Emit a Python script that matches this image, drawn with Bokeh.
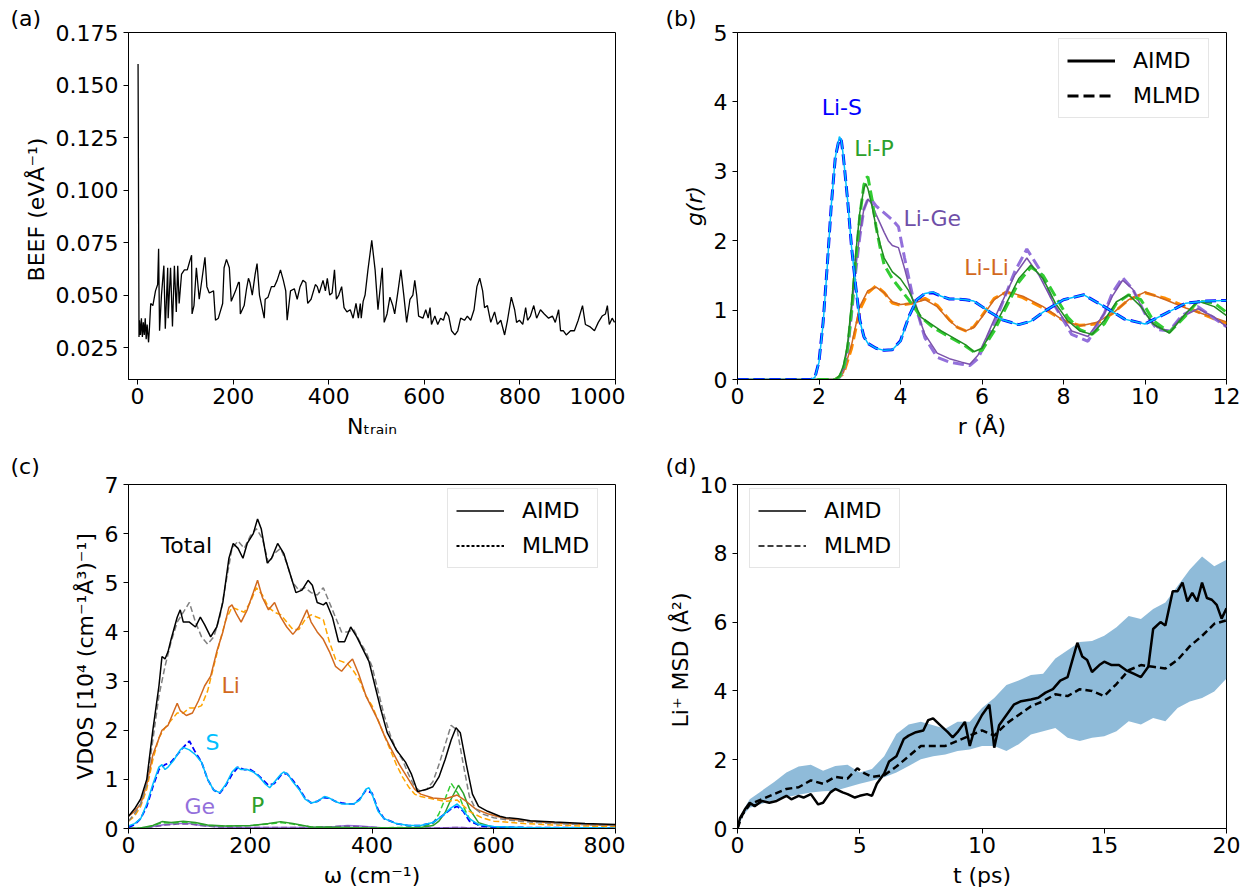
from bokeh.plotting import figure
from bokeh.models import Legend, LegendItem, FixedTicker, PrintfTickFormatter, Range1d, Label
from bokeh.layouts import column, row
from bokeh.embed import file_html
from bokeh.resources import INLINE

# ---------------- data: (a) BEEF vs N_train ----------------
beef_points = [
    (1, 0.160), (3, 0.030), (4, 0.038), (6, 0.031), (8, 0.039), (10, 0.030), (12, 0.037),
    (14, 0.031), (16, 0.039), (18, 0.029), (20, 0.036), (22, 0.030), (23, 0.0275), (25, 0.035),
    (27.5, 0.046), (32, 0.045), (37.5, 0.052), (42, 0.055), (44, 0.072), (46, 0.033), (50, 0.050),
    (55, 0.064), (58, 0.034), (63, 0.063), (64, 0.039), (69, 0.063), (73, 0.035), (77, 0.064),
    (81, 0.042), (84, 0.064), (87, 0.046), (92, 0.060), (98, 0.062), (104, 0.062), (109, 0.066),
    (113, 0.069), (114, 0.041), (118, 0.045), (123, 0.063), (129, 0.048), (135, 0.058), (141, 0.068),
    (145, 0.054), (150, 0.051), (159, 0.052), (163, 0.038), (169, 0.039), (178, 0.046), (181, 0.063),
    (186, 0.067), (192, 0.063), (196, 0.047), (205, 0.052), (211, 0.056), (213, 0.056), (215, 0.041),
    (223, 0.045), (228, 0.053), (232, 0.058), (235, 0.056), (240, 0.050), (246, 0.060), (250, 0.065),
    (255, 0.050), (265, 0.039), (267, 0.048), (273, 0.049), (280, 0.054), (286, 0.054), (292, 0.057),
    (299, 0.062), (305, 0.057), (310, 0.052), (313, 0.038), (320, 0.052), (328, 0.053), (334, 0.048),
    (340, 0.054), (346, 0.057), (352, 0.056), (356, 0.046), (363, 0.048), (372, 0.055), (376, 0.054),
    (380, 0.051), (388, 0.057), (393, 0.052), (397, 0.058), (402, 0.050), (407, 0.051), (412, 0.062),
    (416, 0.048), (421, 0.050), (427, 0.054), (432, 0.044), (438, 0.042), (445, 0.043), (451, 0.039),
    (457, 0.046), (462, 0.039), (466, 0.046), (468, 0.039), (472, 0.047), (476, 0.050), (482, 0.062),
    (490, 0.076), (497, 0.062), (503, 0.043), (512, 0.063), (516, 0.037), (522, 0.041), (528, 0.049),
    (534, 0.045), (538, 0.041), (545, 0.052), (551, 0.062), (557, 0.050), (563, 0.037), (570, 0.048),
    (576, 0.050), (580, 0.057), (584, 0.050), (588, 0.040), (597, 0.039), (603, 0.043), (608, 0.039),
    (612, 0.044), (615, 0.036), (622, 0.040), (628, 0.036), (634, 0.039), (640, 0.038), (645, 0.042),
    (651, 0.040), (657, 0.033), (664, 0.031), (670, 0.033), (676, 0.039), (684, 0.038), (690, 0.040),
    (697, 0.038), (704, 0.043), (710, 0.054), (716, 0.058), (722, 0.052), (726, 0.044), (732, 0.045),
    (739, 0.037), (747, 0.042), (753, 0.036), (760, 0.038), (768, 0.031), (774, 0.038), (782, 0.049),
    (789, 0.043), (793, 0.037), (799, 0.038), (806, 0.036), (812, 0.044), (816, 0.038), (822, 0.040),
    (829, 0.045), (835, 0.039), (843, 0.043), (851, 0.041), (860, 0.039), (868, 0.040), (874, 0.037),
    (881, 0.043), (885, 0.033), (891, 0.033), (897, 0.031), (906, 0.033), (914, 0.033), (922, 0.038),
    (931, 0.045), (937, 0.036), (946, 0.035), (956, 0.033), (964, 0.037), (972, 0.040), (979, 0.041),
    (983, 0.045), (987, 0.036), (993, 0.039), (998, 0.037),
]
n_train = [p[0] for p in beef_points]
beef = [p[1] for p in beef_points]

# ---------------- data: (b) g(r) ----------------
r_lis = [0, 1.8, 1.9, 2.0, 2.1, 2.2, 2.3, 2.4, 2.5, 2.55, 2.6, 2.7, 2.8, 2.9, 3.0, 3.1, 3.2, 3.4, 3.6, 3.8,
         4.0, 4.2, 4.4, 4.6, 4.8, 5.0, 5.2, 5.4, 5.6, 5.8, 6.0, 6.2, 6.5, 6.9, 7.2, 7.5, 8.0, 8.5, 9.0, 9.5,
         10.0, 10.5, 11.0, 11.5, 12.0]
g_lis_aimd = [0, 0, 0.03, 0.25, 0.8, 1.6, 2.5, 3.2, 3.5, 3.45, 3.2, 2.6, 1.9, 1.35, 0.85, 0.62, 0.52, 0.45,
              0.42, 0.43, 0.55, 0.9, 1.15, 1.24, 1.26, 1.2, 1.16, 1.16, 1.15, 1.13, 1.05, 0.97, 0.86, 0.79,
              0.84, 0.97, 1.15, 1.22, 1.05, 0.87, 0.8, 0.95, 1.1, 1.13, 1.14]
g_lis_mlmd = [0, 0, 0.03, 0.26, 0.82, 1.62, 2.5, 3.2, 3.48, 3.44, 3.2, 2.6, 1.9, 1.35, 0.86, 0.62, 0.52, 0.45,
              0.42, 0.43, 0.56, 0.9, 1.15, 1.24, 1.25, 1.2, 1.16, 1.16, 1.15, 1.13, 1.05, 0.97, 0.86, 0.79,
              0.84, 0.97, 1.15, 1.22, 1.05, 0.87, 0.8, 0.95, 1.1, 1.13, 1.14]

r_lip = [0, 2.4, 2.5, 2.6, 2.7, 2.8, 2.9, 3.0, 3.1, 3.15, 3.2, 3.3, 3.4, 3.5, 3.6, 3.8, 4.0, 4.2, 4.5, 4.8,
         5.0, 5.3, 5.6, 5.8, 6.0, 6.3, 6.6, 6.9, 7.2, 7.5, 7.8, 8.1, 8.4, 8.7, 9.0, 9.3, 9.6, 9.9, 10.2, 10.6,
         11.0, 11.3, 11.7, 12.0]
g_lip_aimd = [0, 0, 0.05, 0.2, 0.5, 1.1, 1.8, 2.4, 2.75, 2.82, 2.75, 2.5, 2.2, 1.95, 1.75, 1.55, 1.45, 1.28,
              0.9, 0.78, 0.7, 0.6, 0.5, 0.4, 0.45, 0.75, 1.1, 1.45, 1.65, 1.45, 1.1, 0.85, 0.7, 0.65, 0.85,
              1.12, 1.22, 1.05, 0.8, 0.67, 0.95, 1.13, 1.05, 0.92]
g_lip_mlmd = [0, 0, 0.04, 0.15, 0.45, 1.0, 1.7, 2.35, 2.8, 2.9, 2.92, 2.6, 2.2, 1.9, 1.65, 1.45, 1.3, 1.15,
              0.9, 0.75, 0.68, 0.58, 0.48, 0.4, 0.42, 0.7, 1.05, 1.4, 1.62, 1.5, 1.2, 0.9, 0.72, 0.65, 0.8,
              1.1, 1.22, 1.15, 0.85, 0.68, 0.92, 1.13, 1.1, 0.97]

r_lige = [0, 2.4, 2.5, 2.6, 2.7, 2.8, 2.9, 3.0, 3.1, 3.2, 3.3, 3.4, 3.5, 3.6, 3.7, 3.8, 3.95, 4.1, 4.3, 4.6,
          4.9, 5.2, 5.5, 5.7, 5.9, 6.1, 6.4, 6.8, 7.1, 7.4, 7.8, 8.2, 8.6, 9.0, 9.2, 9.45, 9.7, 10.0, 10.3,
          10.6, 10.9, 11.3, 11.7, 12.0]
g_lige_aimd = [0, 0, 0.04, 0.15, 0.45, 1.0, 1.6, 2.1, 2.45, 2.6, 2.53, 2.38, 2.25, 2.12, 2.0, 1.93, 1.9, 1.6,
               1.15, 0.65, 0.38, 0.3, 0.25, 0.22, 0.35, 0.6, 1.0, 1.5, 1.75, 1.5, 1.05, 0.7, 0.62, 0.95, 1.2,
               1.43, 1.3, 0.95, 0.75, 0.7, 0.9, 1.02, 0.9, 0.76]
g_lige_mlmd = [0, 0, 0.03, 0.12, 0.4, 0.95, 1.55, 2.05, 2.45, 2.6, 2.58, 2.5, 2.45, 2.4, 2.35, 2.3, 2.2, 1.75,
               1.2, 0.6, 0.32, 0.25, 0.22, 0.2, 0.3, 0.55, 0.95, 1.55, 1.88, 1.6, 1.05, 0.65, 0.55, 0.95, 1.25,
               1.47, 1.3, 0.95, 0.72, 0.7, 0.92, 1.05, 0.88, 0.76]

r_lili = [0, 2.4, 2.6, 2.8, 3.0, 3.2, 3.4, 3.6, 3.8, 4.0, 4.3, 4.6, 4.9, 5.2, 5.4, 5.6, 5.8, 6.0, 6.3, 6.6,
          7.0, 7.5, 8.0, 8.4, 8.8, 9.2, 9.6, 10.0, 10.5, 11.0, 11.5, 12.0]
g_lili_aimd = [0, 0, 0.1, 0.5, 1.05, 1.28, 1.33, 1.25, 1.12, 1.08, 1.1, 1.15, 1.05, 0.85, 0.75, 0.7, 0.75, 0.9,
               1.15, 1.27, 1.2, 1.05, 0.85, 0.77, 0.82, 0.95, 1.15, 1.26, 1.15, 1.03, 0.93, 0.83]
g_lili_mlmd = [0, 0, 0.08, 0.45, 1.0, 1.25, 1.35, 1.25, 1.1, 1.07, 1.1, 1.17, 1.07, 0.86, 0.75, 0.7, 0.76, 0.92,
               1.17, 1.26, 1.18, 1.03, 0.85, 0.78, 0.8, 0.95, 1.15, 1.25, 1.17, 1.05, 0.92, 0.8]

# ---------------- data: (c) VDOS ----------------
w_tot_aimd = [0, 10, 20, 30, 40, 50, 55, 60, 65, 70, 80, 85, 90, 100, 110, 118, 125, 135, 145, 155, 165, 172,
              180, 188, 195, 205, 212, 218, 228, 235, 245, 255, 265, 275, 285, 295, 302, 310, 320, 325, 335,
              345, 355, 365, 375, 385, 395, 405, 415, 425, 440, 455, 465, 475, 490, 500, 510, 520, 530, 538,
              545, 555, 565, 575, 590, 600, 610, 620, 640, 660, 700, 750, 800]
tot_aimd = [0.25, 0.4, 0.6, 1.0, 2.0, 2.9, 3.5, 3.45, 3.6, 3.85, 4.3, 4.45, 4.2, 4.2, 4.1, 4.3, 4.15, 3.9, 4.1,
            4.6, 5.5, 5.8, 5.7, 5.5, 5.8, 6.0, 6.3, 6.1, 5.4, 5.5, 5.8, 5.6, 5.2, 4.8, 4.85, 5.05, 4.95, 4.6,
            4.55, 4.6, 4.3, 3.8, 3.8, 4.1, 3.9, 3.65, 3.4, 2.9, 2.4, 1.95, 1.6, 1.35, 1.1, 0.75, 0.8, 0.85,
            1.05, 1.4, 1.8, 2.05, 1.95, 1.3, 0.7, 0.45, 0.35, 0.3, 0.25, 0.22, 0.2, 0.16, 0.13, 0.1, 0.08]
w_tot_mlmd = [0, 10, 20, 30, 40, 50, 60, 70, 80, 90, 100, 110, 120, 130, 140, 150, 160, 170, 180, 190, 200,
              210, 220, 230, 240, 250, 260, 270, 280, 290, 300, 310, 320, 330, 340, 350, 360, 370, 380, 390,
              400, 410, 420, 430, 440, 450, 460, 470, 480, 490, 500, 510, 520, 530, 540, 550, 560, 570, 580,
              600, 620, 650, 700, 750, 800]
tot_mlmd = [0.15, 0.3, 0.5, 0.9, 1.8, 2.7, 3.3, 3.8, 4.2, 4.4, 4.6, 4.2, 3.9, 3.75, 3.9, 4.3, 5.0, 5.7, 5.85,
            5.7, 5.95, 6.1, 5.9, 5.4, 5.6, 5.7, 5.4, 5.0, 4.85, 4.9, 4.8, 4.75, 4.9, 4.6, 4.3, 4.0, 4.0, 4.05,
            3.8, 3.6, 3.3, 2.8, 2.3, 1.9, 1.6, 1.4, 1.1, 0.85, 0.75, 0.8, 0.95, 1.3, 1.7, 2.1, 2.0, 1.3, 0.65,
            0.4, 0.3, 0.22, 0.18, 0.14, 0.1, 0.08, 0.06]

w_li_aimd = [0, 10, 20, 30, 40, 55, 65, 75, 80, 85, 95, 105, 115, 125, 135, 145, 155, 165, 170, 178, 185, 195,
             205, 212, 220, 230, 240, 250, 260, 270, 280, 293, 300, 310, 320, 330, 340, 350, 360, 368, 378, 390,
             400, 410, 420, 430, 445, 460, 470, 480, 500, 520, 540, 555, 570, 590, 620, 660, 700, 750, 800]
li_aimd = [0.25, 0.35, 0.5, 0.9, 1.5, 2.0, 2.1, 2.4, 2.55, 2.4, 2.3, 2.35, 2.6, 2.9, 3.1, 3.6, 4.0, 4.5, 4.55,
           4.35, 4.2, 4.45, 4.8, 5.05, 4.7, 4.45, 4.6, 4.3, 4.1, 3.95, 4.1, 4.45, 4.2, 4.0, 3.85, 3.6, 3.3, 3.2,
           3.35, 3.45, 3.15, 2.7, 2.45, 2.2, 1.9, 1.65, 1.3, 1.0, 0.8, 0.7, 0.62, 0.6, 0.68, 0.55, 0.4, 0.3,
           0.2, 0.15, 0.11, 0.08, 0.06]
w_li_mlmd = [0, 10, 20, 30, 40, 50, 60, 70, 80, 90, 100, 110, 120, 130, 140, 150, 160, 170, 180, 190, 200,
             210, 220, 230, 240, 250, 260, 270, 280, 290, 300, 310, 320, 330, 340, 350, 360, 370, 380, 390,
             400, 410, 420, 430, 440, 450, 460, 470, 480, 500, 520, 540, 560, 580, 600, 650, 700, 750, 800]
li_mlmd = [0.15, 0.25, 0.45, 0.8, 1.4, 1.85, 2.05, 2.2, 2.35, 2.35, 2.45, 2.45, 2.5, 2.8, 3.3, 3.8, 4.25, 4.5,
           4.45, 4.4, 4.6, 4.9, 4.75, 4.5, 4.4, 4.35, 4.2, 4.05, 4.05, 4.25, 4.35, 4.3, 4.25, 3.8, 3.45, 3.4,
           3.35, 3.2, 3.0, 2.7, 2.5, 2.2, 1.9, 1.6, 1.3, 1.05, 0.85, 0.7, 0.65, 0.6, 0.55, 0.58, 0.35, 0.22,
           0.15, 0.1, 0.07, 0.05, 0.04]

w_s_aimd = [0, 10, 20, 30, 40, 50, 55, 60, 65, 75, 85, 90, 100, 110, 120, 130, 140, 150, 160, 170, 178, 185,
            195, 205, 215, 225, 232, 240, 250, 255, 262, 270, 280, 290, 300, 310, 322, 330, 340, 350, 360, 370,
            380, 390, 395, 400, 410, 420, 440, 460, 480, 500, 515, 530, 540, 548, 560, 575, 600, 650, 800]
s_aimd = [0.05, 0.1, 0.2, 0.5, 0.9, 1.25, 1.3, 1.2, 1.25, 1.4, 1.6, 1.65, 1.6, 1.5, 1.35, 1.0, 0.78, 0.73, 0.9,
          1.15, 1.25, 1.2, 1.2, 1.15, 1.05, 0.9, 0.83, 0.95, 1.1, 1.15, 1.1, 0.95, 0.8, 0.6, 0.52, 0.55, 0.65,
          0.62, 0.55, 0.5, 0.5, 0.5, 0.58, 0.8, 0.83, 0.7, 0.35, 0.2, 0.1, 0.06, 0.06, 0.12, 0.25, 0.42, 0.5,
          0.4, 0.2, 0.08, 0.04, 0.02, 0.01]
w_s_mlmd = [0, 10, 20, 30, 40, 50, 60, 70, 80, 90, 100, 110, 120, 130, 140, 150, 160, 170, 180, 190, 200, 210,
            220, 230, 240, 250, 260, 270, 280, 290, 300, 310, 320, 330, 340, 350, 360, 370, 380, 390, 400, 410,
            420, 440, 460, 480, 500, 520, 530, 540, 550, 560, 580, 600, 650, 800]
s_mlmd = [0.02, 0.08, 0.2, 0.45, 0.85, 1.2, 1.3, 1.35, 1.5, 1.65, 1.78, 1.55, 1.35, 1.0, 0.78, 0.72, 0.88, 1.1,
          1.25, 1.2, 1.2, 1.12, 1.0, 0.88, 0.92, 1.08, 1.12, 0.98, 0.82, 0.62, 0.52, 0.55, 0.63, 0.62, 0.55,
          0.52, 0.5, 0.5, 0.6, 0.78, 0.72, 0.38, 0.2, 0.1, 0.06, 0.06, 0.12, 0.3, 0.4, 0.45, 0.35, 0.15, 0.05,
          0.03, 0.02, 0.01]

w_ge = [0, 20, 40, 60, 80, 100, 120, 150, 200, 250, 300, 340, 360, 380, 420, 500, 540, 600, 800]
ge_aimd = [0.0, 0.01, 0.04, 0.08, 0.1, 0.1, 0.06, 0.03, 0.02, 0.02, 0.02, 0.04, 0.06, 0.05, 0.01, 0.01, 0.02, 0.0, 0.0]
ge_mlmd = [0.0, 0.01, 0.03, 0.07, 0.09, 0.09, 0.06, 0.03, 0.02, 0.02, 0.02, 0.04, 0.05, 0.04, 0.01, 0.01, 0.02, 0.0, 0.0]

w_p = [0, 20, 40, 55, 70, 90, 110, 130, 160, 200, 230, 250, 270, 300, 400, 480, 500, 510, 520, 530, 542, 550,
       560, 575, 600, 800]
p_aimd = [0.0, 0.01, 0.06, 0.14, 0.12, 0.15, 0.12, 0.07, 0.05, 0.06, 0.1, 0.14, 0.1, 0.03, 0.01, 0.02, 0.06,
          0.15, 0.32, 0.6, 0.88, 0.72, 0.4, 0.12, 0.02, 0.0]
p_mlmd = [0.0, 0.01, 0.05, 0.12, 0.11, 0.13, 0.11, 0.06, 0.05, 0.06, 0.09, 0.12, 0.09, 0.03, 0.01, 0.03, 0.1,
          0.3, 0.6, 0.92, 0.7, 0.45, 0.2, 0.06, 0.01, 0.0]

# ---------------- data: (d) MSD ----------------
t_aimd = [0, 0.1, 0.3, 0.5, 0.7, 1.0, 1.3, 1.6, 2.0, 2.2, 2.5, 2.7, 3.0, 3.3, 3.5, 3.8, 4.0, 4.3, 4.5, 4.8,
          5.0, 5.3, 5.5, 5.7, 6.0, 6.2, 6.5, 6.8, 7.0, 7.3, 7.6, 7.8, 8.0, 8.3, 8.6, 8.8, 9.0, 9.3, 9.5, 9.7,
          10.0, 10.3, 10.4, 10.5, 10.7, 11.0, 11.3, 11.6, 12.0, 12.3, 12.6, 12.9, 13.2, 13.5, 13.7, 13.9,
          14.1, 14.3, 14.5, 14.8, 15.0, 15.3, 15.6, 15.9, 16.2, 16.5, 16.8, 17.0, 17.3, 17.5, 17.8, 18.0,
          18.2, 18.4, 18.6, 18.8, 19.0, 19.2, 19.4, 19.6, 19.8, 20.0]
msd_aimd = [0, 0.3, 0.55, 0.75, 0.65, 0.8, 0.75, 0.8, 0.95, 0.85, 0.95, 0.9, 1.0, 0.7, 0.75, 1.05, 1.15, 1.05,
            1.0, 0.9, 0.95, 1.0, 0.95, 1.3, 1.6, 1.95, 2.1, 2.6, 2.7, 2.8, 2.85, 3.15, 3.2, 3.0, 2.8, 2.65, 2.8,
            3.1, 2.4, 2.9, 3.3, 3.6, 3.0, 2.35, 3.0, 3.3, 3.6, 3.7, 3.75, 3.8, 3.95, 4.05, 4.3, 4.4, 4.9, 5.4,
            5.0, 4.9, 4.55, 4.75, 4.85, 4.75, 4.75, 4.6, 4.5, 4.4, 4.7, 5.8, 6.0, 5.9, 6.9, 6.9, 7.15, 6.6,
            6.85, 6.6, 7.15, 6.7, 6.65, 6.5, 6.1, 6.4]
t_mlmd = [0, 0.2, 0.5, 1.0, 1.5, 2.0, 2.5, 3.0, 3.5, 4.0, 4.5, 4.9, 5.2, 5.5, 6.0, 6.5, 7.0, 7.5, 8.0, 8.5,
          9.0, 9.5, 10.0, 10.5, 11.0, 11.5, 12.0, 12.5, 13.0, 13.5, 14.0, 14.5, 15.0, 15.5, 16.0, 16.5, 17.0,
          17.5, 18.0, 18.5, 19.0, 19.5, 20.0]
msd_mlmd = [0, 0.4, 0.7, 0.85, 1.0, 1.15, 1.2, 1.4, 1.3, 1.5, 1.45, 1.75, 1.6, 1.5, 1.55, 1.8, 2.1, 2.4, 2.4,
            2.4, 2.55, 2.7, 2.85, 2.7, 3.05, 3.3, 3.55, 3.7, 3.9, 3.85, 4.05, 4.0, 3.85, 4.2, 4.6, 4.75, 4.7,
            4.65, 4.9, 5.3, 5.6, 5.95, 6.05]
t_band = [0, 0.25, 0.5, 1, 1.5, 2, 2.5, 3, 3.5, 4, 4.5, 5, 5.5, 6, 6.5, 7, 7.5, 8, 8.5, 9, 9.5, 10, 10.5, 11,
          11.5, 12, 12.5, 13, 13.5, 14, 14.5, 15, 15.5, 16, 16.5, 17, 17.5, 18, 18.5, 19, 19.5, 20]
band_hi = [0, 0.55, 0.85, 1.1, 1.35, 1.63, 1.8, 1.85, 1.68, 1.82, 1.85, 1.63, 1.73, 2.1, 2.75, 3.02, 3.1, 3.0,
           2.9, 3.1, 3.1, 3.5, 3.79, 4.17, 4.3, 4.46, 4.5, 4.94, 5.18, 5.42, 5.45, 5.6, 5.85, 6.18, 6.09, 6.38,
           6.57, 7.05, 7.53, 7.91, 7.62, 7.81]
band_lo = [0, 0.4, 0.6, 0.72, 0.82, 0.91, 0.98, 1.05, 1.08, 1.1, 1.2, 1.3, 1.39, 1.49, 1.63, 1.82, 2.01, 2.1,
           2.15, 2.25, 2.3, 2.4, 2.4, 2.25, 2.45, 2.73, 2.83, 2.92, 2.64, 2.54, 2.64, 2.68, 2.83, 3.12, 3.02,
           3.21, 3.12, 3.5, 3.69, 3.79, 3.98, 4.36]

# ---------------- styling helpers ----------------
FONT = "DejaVu Sans"
FS = "22px"
NAN = float("nan")


def make_panel(w, h, xr, yr, ml, mr, mt, mb, xticks, yticks, xlabel, ylabel, tag, tag_offset,
               tag_standoff, yfmt=None, ylabel_style="normal"):
    p = figure(width=w, height=h, x_range=Range1d(*xr), y_range=Range1d(*yr),
               output_backend="svg", toolbar_location=None,
               min_border_left=ml, min_border_right=mr, min_border_top=mt, min_border_bottom=mb)
    p.grid.visible = False
    p.outline_line_color = "black"
    p.outline_line_width = 1
    p.background_fill_color = "white"
    p.border_fill_color = "white"
    p.xaxis.ticker = FixedTicker(ticks=xticks)
    p.yaxis.ticker = FixedTicker(ticks=yticks)
    if yfmt:
        p.yaxis.formatter = PrintfTickFormatter(format=yfmt)
    for ax in p.axis:
        ax.major_label_text_font = FONT
        ax.major_label_text_font_size = FS
        ax.major_label_text_color = "black"
        ax.axis_label_text_font = FONT
        ax.axis_label_text_font_size = FS
        ax.axis_label_text_color = "black"
        ax.axis_label_text_font_style = "normal"
        ax.minor_tick_line_color = None
        ax.major_tick_in = 0
        ax.major_tick_out = 5
        ax.axis_line_color = "black"
        ax.major_tick_line_color = "black"
    p.xaxis.major_label_standoff = 3
    p.yaxis.major_label_standoff = 5
    p.xaxis.axis_label_standoff = 7
    p.yaxis.axis_label_standoff = 4
    p.xaxis.axis_label = xlabel
    p.yaxis.axis_label = ylabel
    p.yaxis.axis_label_text_font_style = ylabel_style
    p.title.text = tag
    p.title.align = "left"
    p.title.offset = tag_offset
    p.title.standoff = tag_standoff
    p.title.text_font = FONT
    p.title.text_font_size = FS
    p.title.text_font_style = "normal"
    p.title.text_color = "black"
    return p


def add_text(p, x, y, text, color):
    p.add_layout(Label(x=x, y=y, text=text, text_font=FONT, text_font_size=FS,
                       text_align="center", text_baseline="middle", text_color=color))


def add_legend(p, entries, loc):
    items = []
    for lab, kw in entries:
        r = p.line(x=[0, 0], y=[NAN, NAN], color="black", **kw)
        items.append(LegendItem(label=lab, renderers=[r]))
    lg = Legend(items=items, location=loc, margin=0, padding=8, spacing=8,
                glyph_width=48, glyph_height=27, label_height=27, label_standoff=18,
                label_text_font=FONT, label_text_font_size=FS, label_text_color="black",
                border_line_color="#cccccc", border_line_width=1,
                background_fill_color="white", background_fill_alpha=0.8)
    p.add_layout(lg)


# ---------------- (a) ----------------
pa = make_panel(625, 446, (-19, 1000), (0.0098, 0.175), 128, 10, 32, 67,
                [0, 200, 400, 600, 800, 1000], [0.025, 0.05, 0.075, 0.1, 0.125, 0.15, 0.175],
                "Nₜᵣₐᵢₙ", "BEEF  (eVÅ⁻¹)", "(a)", -118, 4, yfmt="%.3f")
pa.line(n_train, beef, line_color="black", line_width=1.3)

# ---------------- (b) ----------------
pb = make_panel(620, 446, (0, 12), (0, 5), 112, 19, 32, 67,
                [0, 2, 4, 6, 8, 10, 12], [0, 1, 2, 3, 4, 5], "r (Å)", "g(r)", "(b)", -72, 4,
                ylabel_style="italic")
pb.line(r_lili, g_lili_mlmd, line_color="#ff8c00", line_width=3, line_dash="11 5")
pb.line(r_lili, g_lili_aimd, line_color="#d2691e", line_width=1.5)
pb.line(r_lige, g_lige_mlmd, line_color="#9370db", line_width=3, line_dash="11 5")
pb.line(r_lige, g_lige_aimd, line_color="#7b52ab", line_width=1.5)
pb.line(r_lip, g_lip_mlmd, line_color="#32cd32", line_width=3, line_dash="11 5")
pb.line(r_lip, g_lip_aimd, line_color="#228b22", line_width=1.5)
pb.line(r_lis, g_lis_mlmd, line_color="#0000ff", line_width=3, line_dash="11 5")
pb.line(r_lis, g_lis_aimd, line_color="#00bfff", line_width=1.5)
add_text(pb, 2.56, 3.92, "Li-S", "#0000ff")
add_text(pb, 3.35, 3.33, "Li-P", "#2ca02c")
add_text(pb, 4.78, 2.32, "Li-Ge", "#6f4fa8")
add_text(pb, 6.11, 1.61, "Li-Li", "#d2691e")
add_legend(pb, [("AIMD", dict(line_width=3)), ("MLMD", dict(line_width=3, line_dash="11 5"))], (321, 261))

# ---------------- (c) ----------------
pc = make_panel(625, 444, (0, 800), (0, 7), 128, 10, 37, 59,
                [0, 200, 400, 600, 800], [0, 1, 2, 3, 4, 5, 6, 7], "ω (cm⁻¹)",
                "VDOS [10⁴ (cm⁻¹Å³)⁻¹]", "(c)", -118, 11)
dash_c = "6 3"
pc.line(w_ge, ge_aimd, line_color="#9370db", line_width=1.5)
pc.line(w_ge, ge_mlmd, line_color="#7b52ab", line_width=1.5, line_dash=dash_c)
pc.line(w_p, p_mlmd, line_color="#32cd32", line_width=1.5, line_dash=dash_c)
pc.line(w_p, p_aimd, line_color="#2ca02c", line_width=1.5)
pc.line(w_s_mlmd, s_mlmd, line_color="#0000ff", line_width=1.8, line_dash=dash_c)
pc.line(w_s_aimd, s_aimd, line_color="#00bfff", line_width=1.5)
pc.line(w_li_mlmd, li_mlmd, line_color="#ffa500", line_width=1.5, line_dash=dash_c)
pc.line(w_li_aimd, li_aimd, line_color="#d2691e", line_width=1.5)
pc.line(w_tot_mlmd, tot_mlmd, line_color="#808080", line_width=1.5, line_dash=dash_c)
pc.line(w_tot_aimd, tot_aimd, line_color="black", line_width=1.5)
add_text(pc, 95, 5.75, "Total", "black")
add_text(pc, 168, 2.92, "Li", "#d2691e")
add_text(pc, 138, 1.76, "S", "#00bfff")
add_text(pc, 117, 0.45, "Ge", "#9370db")
add_text(pc, 212, 0.47, "P", "#2ca02c")
add_legend(pc, [("AIMD", dict(line_width=1.5)), ("MLMD", dict(line_width=2, line_dash="3 2"))], (319, 260))

# ---------------- (d) ----------------
pd_ = make_panel(620, 444, (0, 20), (0, 10), 112, 19, 37, 59,
                 [0, 5, 10, 15, 20], [0, 2, 4, 6, 8, 10], "t (ps)", "Li⁺  MSD (Å²)", "(d)", -72, 11)
pd_.varea(x=t_band, y1=band_lo, y2=band_hi, fill_color="#1f77b4", fill_alpha=0.5)
pd_.line(t_mlmd, msd_mlmd, line_color="black", line_width=2.5, line_dash="7 4")
pd_.line(t_aimd, msd_aimd, line_color="black", line_width=2.5)
add_legend(pd_, [("AIMD", dict(line_width=1.5)), ("MLMD", dict(line_width=1.5, line_dash="6 3"))], (12, 260))

layout = column(row(pa, pb), row(pc, pd_))
open("out.html", "w").write(file_html(layout, INLINE))
